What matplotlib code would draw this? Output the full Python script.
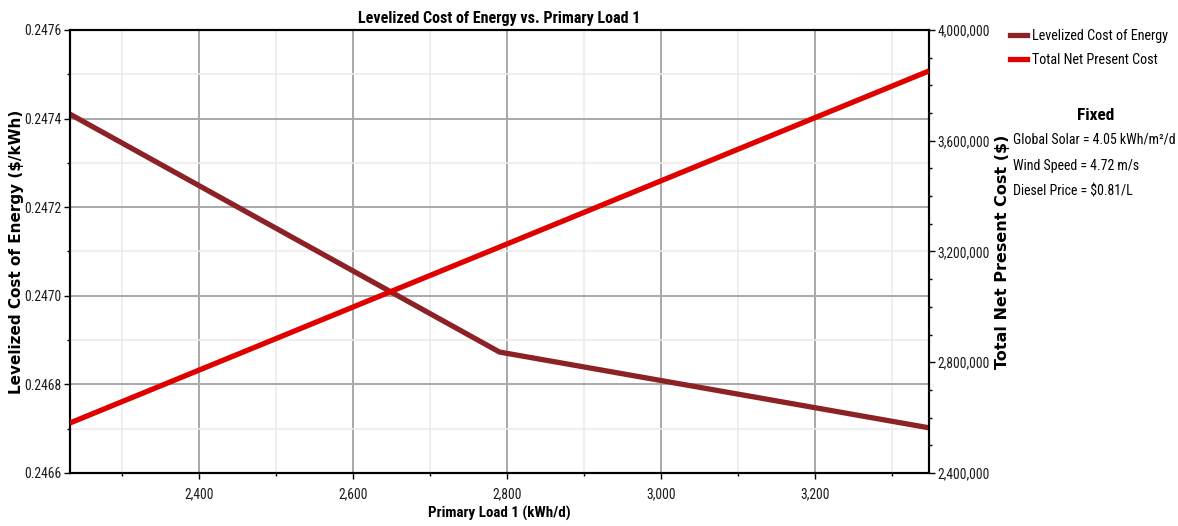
import matplotlib
matplotlib.use("Agg")
import matplotlib.pyplot as plt
from matplotlib.ticker import MultipleLocator, FuncFormatter
from matplotlib.lines import Line2D

# Data
load_lcoe = [2232, 2790, 3348]
lcoe = [0.24741, 0.246873, 0.246702]
load_npc = [2232, 2790, 3348]
npc = [2580600, 3216000, 3852000]

title = "Levelized Cost of Energy vs. Primary Load 1"
xlabel = "Primary Load 1 (kWh/d)"
ylabel_left = "Levelized Cost of Energy ($/kWh)"
ylabel_right = "Total Net Present Cost ($)"
legend_labels = ["Levelized Cost of Energy", "Total Net Present Cost"]
fixed_title = "Fixed"
fixed_lines = ["Global Solar = 4.05 kWh/m\u00b2/d", "Wind Speed = 4.72 m/s", "Diesel Price = $0.81/L"]

narrow = ["Roboto Condensed", "DejaVu Sans"]
wide = ["DejaVu Sans"]

c_lcoe = "#8c2226"
c_npc = "#e00000"

fig = plt.figure(figsize=(11.78, 5.26), dpi=100)
ax = fig.add_axes([0.0594, 0.1008, 0.7292, 0.8422])
ax2 = ax.twinx()

ax.set_xlim(2232, 3348)
ax.set_ylim(0.2466, 0.2476)
ax2.set_ylim(2400000, 4000000)

ax.xaxis.set_major_locator(MultipleLocator(200))
ax.xaxis.set_minor_locator(MultipleLocator(100))
ax.yaxis.set_major_locator(MultipleLocator(0.0002))
ax.yaxis.set_minor_locator(MultipleLocator(0.0001))
ax2.yaxis.set_major_locator(MultipleLocator(400000))
ax2.yaxis.set_minor_locator(MultipleLocator(100000))

ax.xaxis.set_major_formatter(FuncFormatter(lambda v, p: f"{v:,.0f}"))
ax.yaxis.set_major_formatter(FuncFormatter(lambda v, p: f"{v:.4f}"))
ax2.yaxis.set_major_formatter(FuncFormatter(lambda v, p: f"{v:,.0f}"))

ax.grid(which="major", color="#a8a8a8", linewidth=1.4)
ax.grid(which="minor", color="#ececec", linewidth=1.2)
ax.set_axisbelow(True)

ax.plot(load_lcoe, lcoe, color=c_lcoe, linewidth=3.8, solid_capstyle="butt", zorder=3)
ax2.plot(load_npc, npc, color=c_npc, linewidth=3.8, solid_capstyle="butt", zorder=3)

for a in (ax, ax2):
    for s in a.spines.values():
        s.set_color("black")
        s.set_linewidth(1.5)
    a.tick_params(which="major", direction="out", length=4, width=1, labelsize=9.8, pad=2)
    a.tick_params(which="minor", direction="out", length=2.5, width=1)
    for lbl in a.get_xticklabels() + a.get_yticklabels():
        lbl.set_family(narrow)
        lbl.set_color("#1a1a1a")
ax.tick_params(axis="x", which="major", pad=6)

ax.set_title(title, family=narrow, fontweight="bold", fontsize=11.5, pad=5)
ax.set_xlabel(xlabel, family=narrow, fontweight="bold", fontsize=10.8, labelpad=4)
ax.set_ylabel(ylabel_left, family=wide, fontweight="bold", fontsize=11)
ax2.set_ylabel(ylabel_right, family=wide, fontweight="bold", fontsize=11.5, rotation=90)
ax.yaxis.label.set_va("center")
ax2.yaxis.label.set_va("center")
ax.yaxis.set_label_coords(-0.0625, 0.5)
ax2.yaxis.set_label_coords(1.086, 0.5)

handles = [Line2D([0], [0], color=c_lcoe, linewidth=3.8),
           Line2D([0], [0], color=c_npc, linewidth=3.8)]
fig.legend(handles, legend_labels, loc="upper left", bbox_to_anchor=(0.857, 0.945),
           frameon=False, prop={"family": narrow, "size": 10.2}, handlelength=1.25,
           handletextpad=0.35, labelspacing=0.7, borderaxespad=0, borderpad=0)

fig.text(0.930, 0.781, fixed_title, family=narrow, fontweight="bold", fontsize=12.5,
         ha="center", va="center")
for i, t in enumerate(fixed_lines):
    fig.text(0.860, 0.734 - i * 0.0494, t, family=narrow, fontsize=10, ha="left", va="center")

fig.savefig("out.png", dpi=100)
